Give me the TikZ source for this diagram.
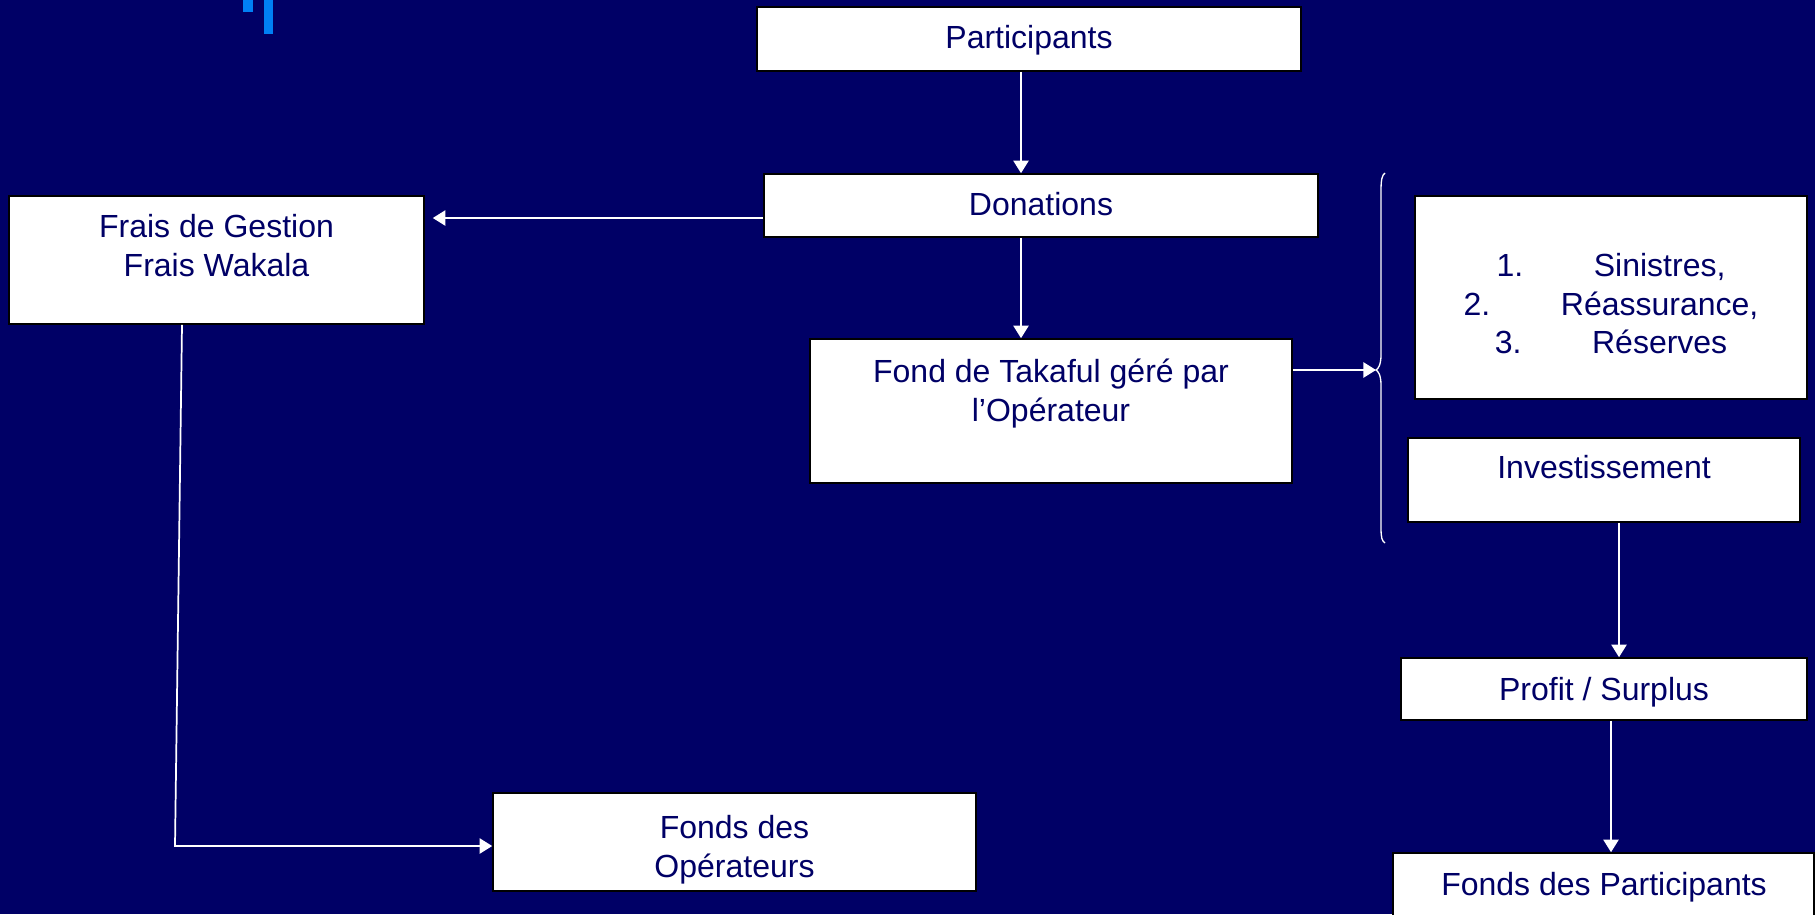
\documentclass[tikz,border=0pt]{standalone}
\usepackage{fontspec}
\setmainfont{Liberation Sans}
\usetikzlibrary{arrows.meta}
\definecolor{bgnavy}{RGB}{0,0,102}
\definecolor{inknavy}{RGB}{0,0,102}
\definecolor{markblue}{RGB}{0,128,245}
\begin{document}
\begin{tikzpicture}[x=0.75pt,y=-0.75pt,
  box/.style={draw=black, line width=1.2pt, fill=white, inner sep=0pt},
  txt/.style={text=inknavy, font=\fontsize{24}{29}\selectfont, align=center, inner sep=0pt},
  arr/.style={draw=white, line width=1.3pt, -{Triangle[length=9.5pt,width=11.5pt]}},
  ln/.style={draw=white, line width=1.2pt}]
\useasboundingbox (0,0) rectangle (1815,914);
\fill[bgnavy] (0,0) rectangle (1815,914);
\clip (0,0) rectangle (1815,914);
% decorative marks
\fill[markblue] (243,0) rectangle (253,12);
\fill[markblue] (264,0) rectangle (273,34);
% boxes
\node[box, minimum width=408pt, minimum height=48pt] (part) at (1029,39) {};
\node[txt, anchor=base] (partt) at (1029,48.5) {Participants};
\node[box, minimum width=415.5pt, minimum height=47.25pt] (don) at (1041,205.5) {};
\node[txt, anchor=base] (dont) at (1041,215) {Donations};
\node[box, minimum width=311.25pt, minimum height=96pt] (frais) at (216.5,260) {};
\node[txt, anchor=north] (fraist) at (216.5,214.5) {Frais de Gestion\\Frais Wakala};
\node[box, minimum width=361.5pt, minimum height=108pt] (fond) at (1051,411) {};
\node[txt, anchor=north] (fondt) at (1051,359) {Fond de Takaful géré par\\l’Opérateur};
\node[box, minimum width=294pt, minimum height=152.25pt] (sin) at (1611,297.5) {};
\node[txt, anchor=north] (sint) at (1611,253) {1.\hspace{53pt}Sinistres,\\2.\hspace{53pt}Réassurance,\\3.\hspace{53pt}Réserves};
\node[box, minimum width=294pt, minimum height=63pt] (inv) at (1604,480) {};
\node[txt, anchor=base] (invt) at (1604,478) {Investissement};
\node[box, minimum width=304.5pt, minimum height=46.5pt] (prof) at (1604,689) {};
\node[txt, anchor=base] (proft) at (1604,700) {Profit / Surplus};
\node[box, minimum width=315.75pt, minimum height=65.25pt] (fp) at (1603.5,896.5) {};
\node[txt, anchor=base] (fpt) at (1604,895) {Fonds des Participants};
\node[box, minimum width=362.25pt, minimum height=73.5pt] (fop) at (734.5,842) {};
\node[txt, anchor=north] (fopt) at (734.5,815) {Fonds des\\Opérateurs};
% helper coordinates
\coordinate (xa) at (1021,0);
\coordinate (ya) at (0,218);
\coordinate (yb) at (0,370);
\coordinate (xc) at (1619,0);
\coordinate (xd) at (1611,0);
\coordinate (xf) at (182,0);
\coordinate (c1) at (175,846);
\coordinate (bt) at (1376,370);
% connectors
\draw[arr] (part.south -| xa) -- (don.north -| xa);
\draw[arr, shorten >=6pt] (don.west |- ya) -- (frais.east |- ya);
\draw[arr] (don.south -| xa) -- (fond.north -| xa);
\draw[arr] (fond.east |- yb) -- (bt);
\draw[arr] (inv.south -| xc) -- (prof.north -| xc);
\draw[arr] (prof.south -| xd) -- (fp.north -| xd);
\draw[arr] (frais.south -| xf) -- (c1) -- (fop.west |- c1);
% brace
\draw[ln, line width=1pt] (1385,173) .. controls (1382,175) and (1381,180) .. (1381,190)
  -- (1381,355) .. controls (1381,365) and (1378,369) .. (bt)
  .. controls (1378,371) and (1381,375) .. (1381,385)
  -- (1381,528) .. controls (1381,538) and (1382,541) .. (1385,543);
\end{tikzpicture}
\end{document}
